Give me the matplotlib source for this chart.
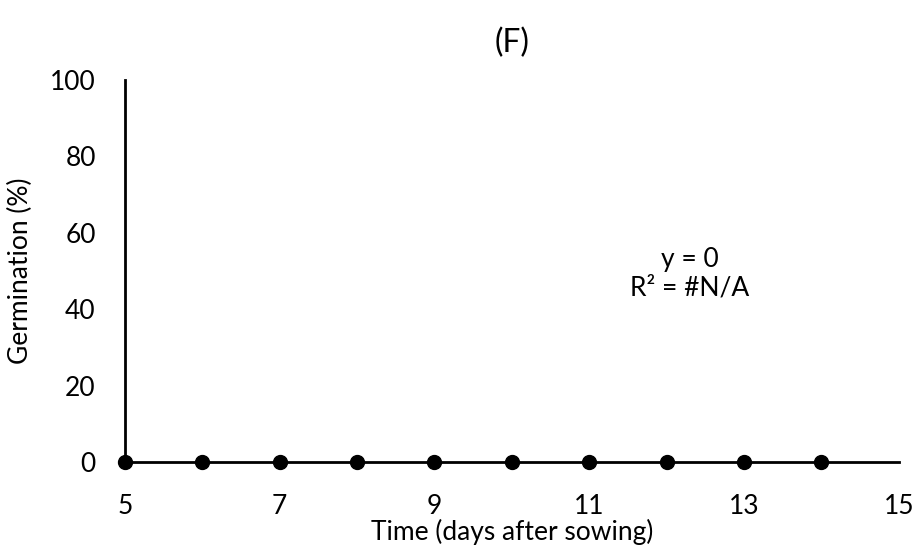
import matplotlib
matplotlib.use("Agg")
import matplotlib.pyplot as plt

# data
days = [5, 6, 7, 8, 9, 10, 11, 12, 13, 14]
germination = [0, 0, 0, 0, 0, 0, 0, 0, 0, 0]
x_ticks = [5, 7, 9, 11, 13, 15]
y_ticks = [0, 20, 40, 60, 80, 100]

plt.rcParams['font.family'] = ['Lato', 'DejaVu Sans']
plt.rcParams['font.size'] = 19

fig = plt.figure(figsize=(9.17, 5.5), dpi=100)
ax = fig.add_axes([0.1363, 0.16, 0.8437, 0.6945])

ax.plot(days, germination, 'o', color='black', markersize=10, clip_on=False, zorder=5)

ax.set_xlim(5, 15)
ax.set_ylim(0, 100)
ax.set_xticks(x_ticks)
ax.set_yticks(y_ticks)
ax.tick_params(length=0)
ax.tick_params(axis='x', pad=23)
ax.tick_params(axis='y', pad=21)
for s in ['top', 'right']:
    ax.spines[s].set_visible(False)
for s in ['left', 'bottom']:
    ax.spines[s].set_linewidth(2)

ax.set_xlabel("Time (days after sowing)", labelpad=0)
ax.set_ylabel("Germination (%)", labelpad=12)
ax.set_title("(F)", pad=20)

ax.text(12.3, 53.0, "y = 0", ha='center', va='center')
ax.text(12.3, 45.5, "R² = #N/A", ha='center', va='center')

fig.savefig("out.png", dpi=100)
